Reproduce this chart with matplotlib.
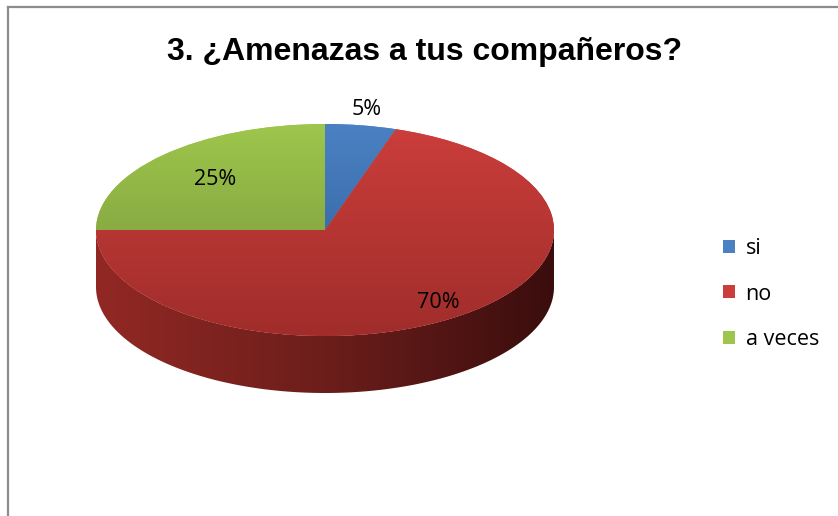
import numpy as np
import matplotlib
matplotlib.use('Agg')
import matplotlib.pyplot as plt
from matplotlib.patches import Patch, Polygon
from matplotlib.colors import LinearSegmentedColormap
from matplotlib.lines import Line2D

# data
categories = ['si', 'no', 'a veces']
values = [5, 70, 25]
labels_pct = ['5%', '70%', '25%']

# face colours (top, bottom of gradient)
top_cols = ['#4b81c3', '#cb3e3b', '#9ec64c']
bot_cols = ['#2c5b96', '#a02d2b', '#75913a']
side_left, side_mid, side_right = '#922824', '#6c1e1b', '#3a0d0d'
label_dist = [1.15, 0.84, 0.68]

W, H = 838, 516
fig = plt.figure(figsize=(W / 100, H / 100), dpi=100)

# pie geometry in pixels (centre, semi axes, depth)
cx, cy, a, b, depth = 325, 230, 229, 106, 57
d = depth / b
ax = fig.add_axes([(cx - a) / W, 1 - (cy + b + depth) / H, 2 * a / W, (2 * b + depth) / H])

wedges, _ = ax.pie(values, startangle=90, counterclock=False, radius=1,
                   wedgeprops=dict(linewidth=0), labels=None)
ax.set_aspect('auto')
ax.set_xlim(-1, 1)
ax.set_ylim(-1 - d, 1)
ax.axis('off')

# side of the cylinder
t = np.linspace(np.pi, 2 * np.pi, 200)
pts = np.vstack([np.column_stack([np.cos(t), np.sin(t)]),
                 np.column_stack([np.cos(t[::-1]), np.sin(t[::-1]) - d])])
side = Polygon(pts, closed=True, facecolor='none', edgecolor='none')
ax.add_patch(side)
cmap_side = LinearSegmentedColormap.from_list('side', [side_left, side_mid, side_right])
grad_h = np.linspace(0, 1, 256).reshape(1, -1)
im = ax.imshow(grad_h, cmap=cmap_side, extent=(-1, 1, -1 - d, 1), aspect='auto', zorder=0.5)
im.set_clip_path(side)

# gradient fill on the top faces
grad_v = np.linspace(1, 0, 256).reshape(-1, 1)
for w, c1, c2 in zip(wedges, top_cols, bot_cols):
    w.set_facecolor(c1)
    w.set_zorder(1)
    cm = LinearSegmentedColormap.from_list('f', [c2, c1])
    g = ax.imshow(grad_v, cmap=cm, extent=(-1, 1, -1, 1), aspect='auto', zorder=1.5)
    g.set_clip_path(w)

# percentage labels
for w, lab, r in zip(wedges, labels_pct, label_dist):
    ang = np.deg2rad((w.theta1 + w.theta2) / 2)
    ax.text(r * np.cos(ang), r * np.sin(ang), lab, ha='center', va='center',
            fontsize=15.5, family='Open Sans', color='#000000', zorder=3)

# title
fig.text(425 / W, 1 - 60 / H, '3. ¿Amenazas a tus compañeros?', ha='center', va='baseline',
         fontsize=23, fontweight='bold', family='Liberation Sans')

# legend
handles = [Patch(facecolor=c, edgecolor='none') for c in top_cols]
fig.legend(handles, categories, loc='center left', bbox_to_anchor=(723 / W, 1 - 294 / H),
           frameon=False, prop={'family': 'Open Sans', 'size': 15.5},
           handlelength=0.55, handleheight=0.55, handletextpad=0.5,
           labelspacing=1.15, borderpad=0, borderaxespad=0)

# chart border (left and top visible)
fig.add_artist(Line2D([8 / W, 8 / W], [0, 1 - 7 / H], color='#8c8c8c', lw=1.6))
fig.add_artist(Line2D([8 / W, 1], [1 - 7 / H, 1 - 7 / H], color='#8c8c8c', lw=1.6))

fig.savefig('out.png', dpi=100)
